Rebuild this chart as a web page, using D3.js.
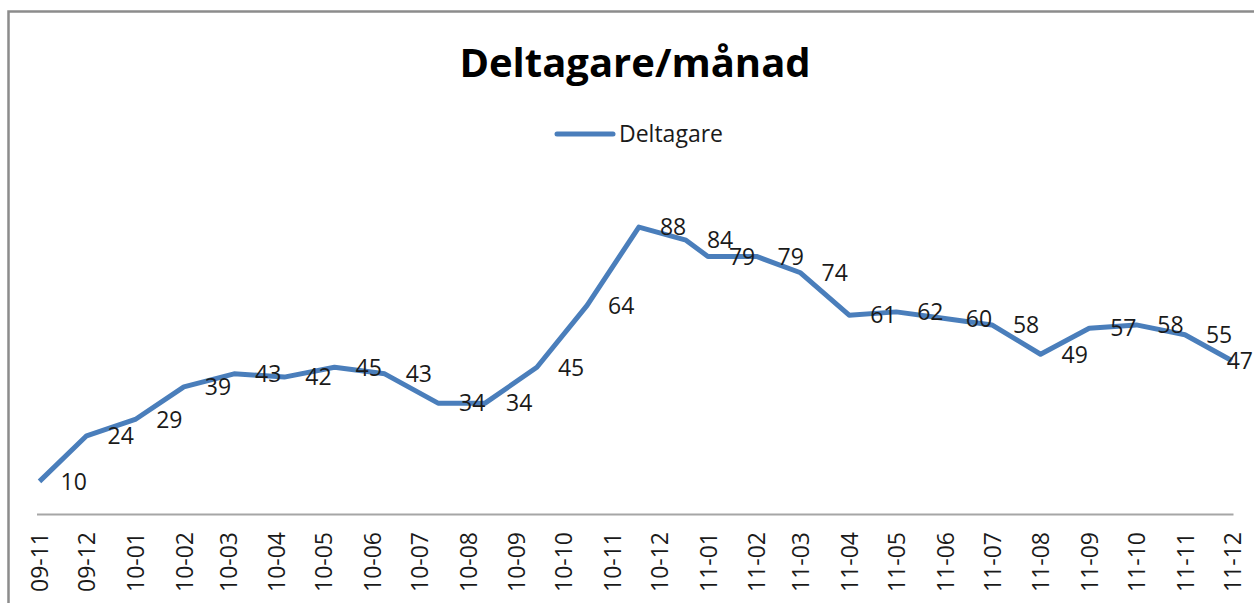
<!DOCTYPE html>
<html>
<head>
<meta charset="utf-8">
<script src="https://cdn.jsdelivr.net/npm/d3@7"></script>
<style>
  body { margin: 0; background: #fff; }
  text { font-family: 'Open Sans', 'Noto Sans', sans-serif; fill: #1a1a1a; }
  .title { font-weight: bold; font-size: 40px; fill: #000; }
</style>
</head>
<body>
<svg id="d" width="1254" height="603"></svg>
<script>
(function (d3) {
  'use strict';

  const titleText = 'Deltagare/månad';
  const seriesName = 'Deltagare';

  // dates of each measurement (date axis, so spacing follows the calendar)
  const dates = [
    '2009-11-01', '2009-12-01', '2010-01-01', '2010-02-01', '2010-03-05',
    '2010-04-06', '2010-05-08', '2010-06-09', '2010-07-13', '2010-08-12',
    '2010-09-14', '2010-10-16', '2010-11-18', '2010-12-18', '2011-01-01',
    '2011-02-01', '2011-03-01', '2011-04-01', '2011-05-01', '2011-06-01',
    '2011-07-01', '2011-08-01', '2011-09-01', '2011-10-01', '2011-11-01',
    '2011-12-01'
  ];
  const values = [
    10, 24, 29, 39, 43, 42, 45, 43, 34, 34, 45, 64, 88,
    84, 79, 79, 74, 61, 62, 60, 58, 49, 57, 58, 55, 47
  ];
  const yDomain = [0, 100];

  const svg = d3.select('#d');
  const width = +svg.attr('width');
  const height = +svg.attr('height');

  const parse = d3.utcParse('%Y-%m-%d');
  const data = dates.map((d, i) => ({ date: parse(d), value: values[i] }));

  const margin = { top: 188, right: 22, bottom: 89, left: 39.5 };
  const innerWidth = width - margin.left - margin.right;
  const innerHeight = height - margin.top - margin.bottom;

  // chart frame
  svg.append('rect')
    .attr('x', 8.5).attr('y', 11.5)
    .attr('width', width + 20).attr('height', height + 20)
    .attr('fill', '#fff')
    .attr('stroke', '#8c8c8c')
    .attr('stroke-width', 2.5);

  const xScale = d3.scaleUtc()
    .domain(d3.extent(data, d => d.date))
    .range([0, innerWidth]);

  const yScale = d3.scaleLinear()
    .domain(yDomain)
    .range([innerHeight, 0]);

  const g = svg.append('g')
    .attr('transform', `translate(${margin.left},${margin.top})`);

  const xAxis = d3.axisBottom(xScale)
    .ticks(d3.utcMonth.every(1))
    .tickFormat(d3.utcFormat('%y-%m'))
    .tickSize(0)
    .tickPadding(0);

  const xAxisG = g.append('g')
    .attr('transform', `translate(0,${innerHeight})`)
    .call(xAxis);

  xAxisG.select('.domain')
    .attr('d', `M${-2.5},0.5H${innerWidth + 1.5}`)
    .attr('stroke', '#a6a6a6')
    .attr('stroke-width', 2);

  xAxisG.selectAll('.tick text')
    .attr('transform', 'rotate(-90)')
    .attr('x', -18)
    .attr('y', 0)
    .attr('dy', '0.36em')
    .attr('text-anchor', 'end')
    .attr('font-size', 23)
    .attr('font-family', "'Open Sans', sans-serif")
    .attr('fill', '#1a1a1a');

  const line = d3.line()
    .x(d => xScale(d.date))
    .y(d => yScale(d.value));

  g.append('path')
    .datum(data)
    .attr('d', line)
    .attr('fill', 'none')
    .attr('stroke', '#4A7EBB')
    .attr('stroke-width', 5)
    .attr('stroke-linejoin', 'round');

  // data labels, placed to the right of each point
  const labels = g.selectAll('.label').data(data)
    .enter().append('text')
      .attr('class', 'label')
      .attr('x', d => xScale(d.date) + 21)
      .attr('y', d => yScale(d.value))
      .attr('dy', '0.36em')
      .attr('font-size', 23)
      .text(d => d.value);

  // keep labels inside the chart area, as Excel does
  labels.each(function () {
    const t = d3.select(this);
    const w = this.getComputedTextLength();
    const x = +t.attr('x');
    if (margin.left + x + w > width - 1) t.attr('x', width - 1 - margin.left - w);
  });

  svg.append('text')
    .attr('class', 'title')
    .attr('x', 635)
    .attr('y', 77)
    .attr('text-anchor', 'middle')
    .text(titleText);

  // legend
  const legend = svg.append('g').attr('transform', 'translate(557,134)');
  legend.append('line')
    .attr('x1', 0).attr('x2', 56)
    .attr('stroke', '#4A7EBB')
    .attr('stroke-width', 5)
    .attr('stroke-linecap', 'round');
  legend.append('text')
    .attr('x', 62)
    .attr('dy', '0.36em')
    .attr('font-size', 23)
    .text(seriesName);

}(d3));
</script>
</body>
</html>
